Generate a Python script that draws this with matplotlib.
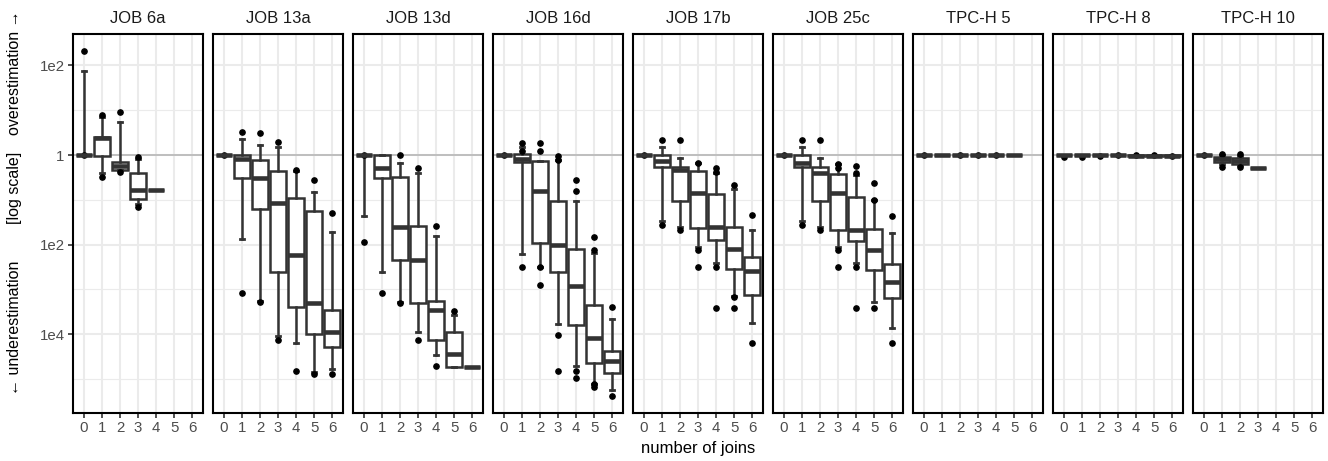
import matplotlib
matplotlib.use("Agg")
import matplotlib.pyplot as plt
from matplotlib.ticker import FixedLocator, NullFormatter

plt.rcParams['font.family'] = ['Liberation Sans', 'DejaVu Sans']

# queries shown in the facets
queries = ["JOB 6a", "JOB 13a", "JOB 13d", "JOB 16d", "JOB 17b", "JOB 25c",
           "TPC-H 5", "TPC-H 8", "TPC-H 10"]
joins = [0, 1, 2, 3, 4, 5, 6]

# box summaries per number of joins, log10(estimate / true):
# (whisker low, q1, median, q3, whisker high); None = no data
job6a_box = [(0, 0, 0, 0, 1.875), (-0.41, -0.02, 0.38, 0.41, 0.84),
             (-0.335, -0.335, -0.24, -0.15, 0.74), (-1.10, -0.99, -0.78, -0.41, -0.096),
             (-0.78, -0.78, -0.78, -0.78, -0.78), None, None]
job6a_out = [[2.32, 0], [0.89, -0.48], [0.97, -0.37], [-0.04, -1.17], [], [], []]

job13a_box = [(0, 0, 0, 0, 0), (-1.87, -0.51, -0.096, 0, 0.35),
              (-3.25, -1.21, -0.51, -0.12, 0.23), (-4.04, -2.6, -1.06, -0.36, 0.185),
              (-4.19, -3.4, -2.23, -0.97, -0.36), (-4.85, -3.99, -3.30, -1.24, -0.83),
              (-4.77, -4.28, -3.96, -3.46, -1.72)]
job13a_out = [[0], [0.52, -3.09], [0.48, -3.29], [0.29, -4.13], [-0.33, -4.82],
              [-0.56, -4.88], [-1.29, -4.89]]

job13d_box = [(-1.36, 0, 0, 0, 0), (-2.60, -0.51, -0.30, 0, 0),
              (-3.28, -2.34, -1.60, -0.48, -0.17), (-3.94, -3.30, -2.34, -1.58, -0.41),
              (-4.47, -4.13, -3.46, -3.25, -1.81), (-4.72, -4.72, -4.43, -3.95, -3.57),
              (-4.72, -4.72, -4.72, -4.72, -4.72)]
job13d_out = [[0, -1.94], [-3.09], [0, -3.30], [-0.29, -4.13], [-1.58, -4.71],
              [-3.47], []]

job16d_box = [(0, 0, 0, 0, 0), (-2.21, -0.156, -0.096, 0.02, 0.17),
              (-2.51, -1.96, -0.80, -0.127, -0.127), (-3.77, -2.60, -2.01, -1.03, -0.11),
              (-4.71, -3.79, -2.92, -2.09, -1.03), (-5.10, -4.63, -4.09, -3.34, -2.18),
              (-5.25, -4.87, -4.60, -4.37, -3.67)]
job16d_out = [[0], [0.26, 0.09, -2.51], [0.26, 0.09, -2.51, -2.89],
              [-0.02, -0.11, -4.02, -4.82], [-0.80, -0.56, -4.82, -4.98],
              [-2.12, -1.84, -5.12, -5.17], [-3.40, -5.38]]

job17b_box = [(0, 0, 0, 0, 0), (-1.47, -0.26, -0.127, 0, 0.185),
              (-1.61, -1.02, -0.335, -0.26, -0.067), (-2.05, -1.62, -0.855, -0.36, -0.17),
              (-2.42, -1.90, -1.61, -0.88, -0.41), (-3.15, -2.54, -2.10, -1.61, -0.76),
              (-3.74, -3.13, -2.59, -2.28, -1.67)]
job17b_out = [[0], [0.335, -1.57], [0.335, -1.67], [-0.17, -2.13, -2.51],
              [-0.30, -0.37, -2.51, -3.42], [-0.68, -3.16, -3.42], [-1.34, -4.19]]

job25c_box = [(0, 0, 0, 0, 0), (-1.47, -0.26, -0.186, 0, 0.185),
              (-1.61, -1.02, -0.41, -0.26, -0.07), (-2.05, -1.67, -0.855, -0.42, -0.19),
              (-2.42, -1.91, -1.67, -0.94, -0.45), (-3.27, -2.57, -2.12, -1.66, -1.0),
              (-3.87, -3.20, -2.83, -2.44, -1.73)]
job25c_out = [[0], [0.335, -1.57], [0.335, -1.67], [-0.19, -0.29, -2.13, -2.51],
              [-0.24, -0.41, -2.51, -3.42], [-0.62, -1.0, -3.42], [-1.36, -4.19]]

tpch5_box = [(0, 0, 0, 0, 0)] * 6 + [None]
tpch5_out = [[0], [], [0], [0], [0], [], []]

tpch8_box = [(0, 0, 0, 0, 0), (0, 0, 0, 0, 0), (0, 0, 0, 0, 0), (0, 0, 0, 0, 0),
             (-0.02, -0.02, -0.02, 0, 0), (-0.02, -0.02, -0.02, 0, 0),
             (-0.02, -0.02, -0.02, 0, 0)]
tpch8_out = [[-0.05], [-0.05], [-0.03], [0], [-0.01], [-0.01], [-0.03]]

tpch10_box = [(0, 0, 0, 0, 0), (-0.21, -0.15, -0.10, -0.04, 0.0),
              (-0.22, -0.20, -0.13, -0.07, -0.03), (-0.28, -0.28, -0.28, -0.28, -0.28),
              None, None, None]
tpch10_out = [[0], [0.02, -0.27], [0.02, -0.27], [], [], [], []]

boxes = [job6a_box, job13a_box, job13d_box, job16d_box, job17b_box, job25c_box,
         tpch5_box, tpch8_box, tpch10_box]
outliers = [job6a_out, job13a_out, job13d_out, job16d_out, job17b_out, job25c_out,
            tpch5_out, tpch8_out, tpch10_out]

W, H = 1328, 461
fig = plt.figure(figsize=(W / 100, H / 100), dpi=100)
fig.patch.set_facecolor('white')

ytick_vals = [1e2, 1, 1e-2, 1e-4]
ytick_labs = ["1e2", "1", "1e2", "1e4"]
yminor = [1e1, 1e-1, 1e-3, 1e-5]
dark = '#333333'

top, bot = 34, 412.7
for i, q in enumerate(queries):
    left = 73 + 140 * i
    ax = fig.add_axes([left / W, 1 - bot / H, 130 / W, (bot - top) / H])
    ax.set_yscale('log')
    ax.set_axisbelow(True)

    stats, pos = [], []
    for j, b in enumerate(boxes[i]):
        if b is None:
            continue
        lo, q1, med, q3, hi = b
        stats.append(dict(whislo=10 ** lo, q1=10 ** q1, med=10 ** med, q3=10 ** q3,
                          whishi=10 ** hi, fliers=[10 ** v for v in outliers[i][j]]))
        pos.append(joins[j])

    ax.axhline(1, color='#BEBEBE', lw=1.4, zorder=1.5)
    ax.bxp(stats, positions=pos, widths=0.9, patch_artist=True, manage_ticks=False,
           capwidths=0.25,
           boxprops=dict(facecolor='white', edgecolor=dark, lw=1.8),
           medianprops=dict(color=dark, lw=3.3, solid_capstyle='butt'),
           whiskerprops=dict(color=dark, lw=1.8),
           capprops=dict(color=dark, lw=2.0),
           flierprops=dict(marker='o', markerfacecolor='black', markeredgecolor='black',
                           markersize=3.8))

    ax.set_xlim(-0.6, 6.6)
    ax.set_ylim(10 ** -5.75, 10 ** 2.70)
    ax.set_xticks(joins)
    ax.set_xticklabels([str(j) for j in joins])
    ax.yaxis.set_major_locator(FixedLocator(ytick_vals))
    ax.yaxis.set_minor_locator(FixedLocator(yminor))
    ax.yaxis.set_minor_formatter(NullFormatter())
    ax.grid(True, which='major', color='#EBEBEB', lw=1.5)
    ax.grid(True, which='minor', axis='y', color='#EBEBEB', lw=0.8)
    ax.tick_params(which='minor', length=0)
    ax.tick_params(which='major', length=3.5, width=1.2, color=dark,
                   labelcolor='#4D4D4D', labelsize=10.8, pad=2.5)
    if i == 0:
        ax.set_yticklabels(ytick_labs)
    else:
        ax.tick_params(axis='y', which='major', length=0, labelleft=False)
    for s in ax.spines.values():
        s.set_color('black')
        s.set_linewidth(1.5)
    ax.text(0.5, 1.042, q, transform=ax.transAxes, ha='center', va='center',
            fontsize=12, color='#1A1A1A')

fig.text(698 / W, 1 - 448 / H, "number of joins", ha='center', va='center', fontsize=12)
fig.text(15 / W, 1 - 328 / H, "\u2190 underestimation", rotation=90, ha='center',
         va='center', fontsize=11.5)
fig.text(15 / W, 1 - 188 / H, "[log scale]", rotation=90, ha='center', va='center',
         fontsize=11.5)
fig.text(15 / W, 1 - 73 / H, "overestimation \u2192", rotation=90, ha='center',
         va='center', fontsize=11.5)

fig.savefig("out.png", dpi=100)
